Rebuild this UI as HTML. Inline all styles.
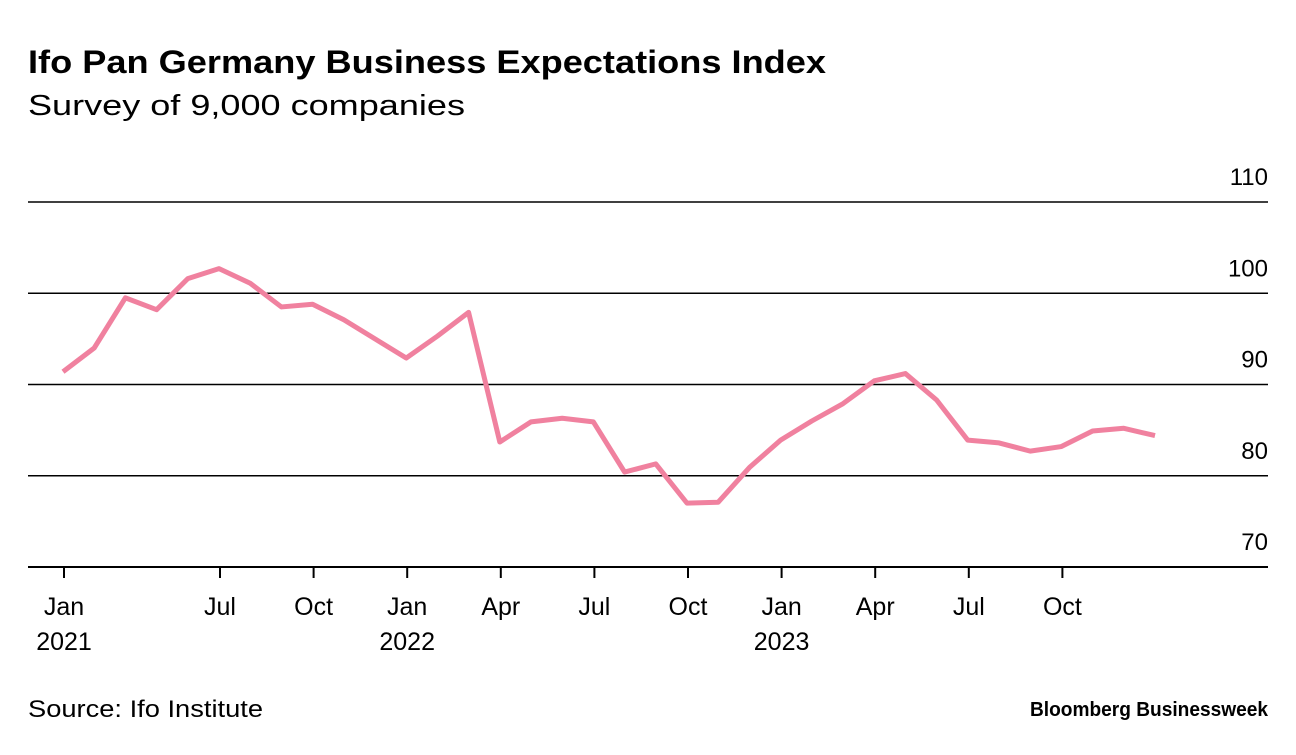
<!DOCTYPE html>
<html><head><meta charset="utf-8"><style>
body{margin:0;background:#fff;width:1296px;height:750px;overflow:hidden;font-family:"Liberation Sans",sans-serif;}
</style></head><body>
<svg width="1296" height="750" font-family="Liberation Sans, sans-serif">
<text x="28" y="73" font-size="32" font-weight="bold" fill="#000" textLength="798" lengthAdjust="spacingAndGlyphs">Ifo Pan Germany Business Expectations Index</text>
<text x="28" y="115" font-size="29" fill="#000" textLength="437" lengthAdjust="spacingAndGlyphs">Survey of 9,000 companies</text>
<g id="grid"></g><g id="xax"></g>
<polyline id="line" fill="none" stroke="#f0819f" stroke-width="5" stroke-linejoin="round"/>
<text x="28" y="717" font-size="24" fill="#000" textLength="235" lengthAdjust="spacingAndGlyphs">Source: Ifo Institute</text>
<text x="1268" y="716" font-size="20" font-weight="bold" text-anchor="end" fill="#000" textLength="238" lengthAdjust="spacingAndGlyphs">Bloomberg Businessweek</text>
</svg>
<script>
const values=[91.4,94.0,99.5,98.2,101.6,102.7,101.1,98.5,98.8,97.1,95.0,92.9,95.3,97.9,83.7,85.9,86.3,85.9,80.4,81.3,77.0,77.1,80.9,83.9,86.0,87.9,90.4,91.2,88.3,83.9,83.6,82.7,83.2,84.9,85.2,84.4];
const yTicks=[70,80,90,100,110];
const xTickIdx=[0,5,8,11,14,17,20,23,26,29,32];
const xTickLabels=["Jan","Jul","Oct","Jan","Apr","Jul","Oct","Jan","Apr","Jul","Oct"];
const xTickYears=["2021","","","2022","","","","2023","","",""];
const ns="http://www.w3.org/2000/svg";
const X=i=>63+i*31.2, Y=v=>567-(v-70)*9.125;
const grid=document.getElementById('grid'), xax=document.getElementById('xax');
function mk(tag,attrs,parent,txt){const e=document.createElementNS(ns,tag);for(const k in attrs)e.setAttribute(k,attrs[k]);if(txt!==undefined)e.textContent=txt;parent.appendChild(e);return e;}
yTicks.forEach(v=>{
  const l=mk('line',{x1:28,x2:1268,y1:Y(v),y2:Y(v),stroke:'#000','stroke-width':v===70?2:1.5},grid);
  
  
  const t=mk('text',{x:1268,y:Y(v)-17,'font-size':24,'text-anchor':'end',fill:'#000'},grid,String(v));
  
  
});
xTickIdx.forEach((idx,k)=>{
  const x=X(idx)+1;
  const l=mk('line',{x1:x,x2:x,y1:567,y2:578,stroke:'#000','stroke-width':2},xax);
  
  
  const t=mk('text',{x:x,y:615,'font-size':25,'text-anchor':'middle',fill:'#000'},xax,xTickLabels[k]);
  
  
  if(xTickYears[k]){
    const y=mk('text',{x:x,y:650,'font-size':25,'text-anchor':'middle',fill:'#000'},xax,xTickYears[k]);
    
    
  }
});
document.getElementById('line').setAttribute('points',values.map((v,i)=>X(i)+','+Y(v)).join(' '));
</script>
</body></html>
